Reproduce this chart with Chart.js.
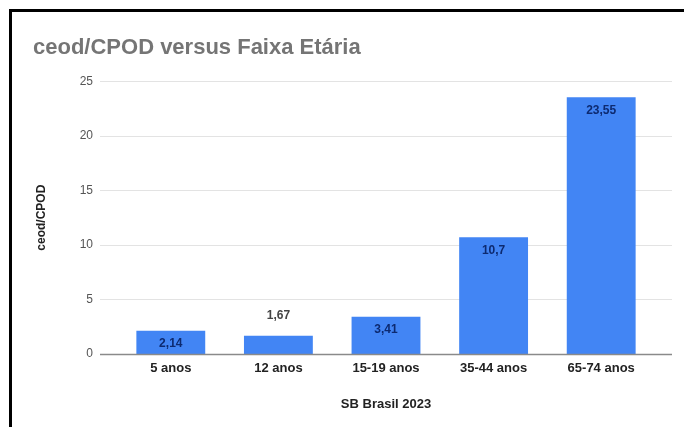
<!DOCTYPE html>
<html>
<head>
<meta charset="utf-8">
<script src="https://cdn.jsdelivr.net/npm/chart.js@4.4.1/dist/chart.umd.min.js"></script>
<style>
  html, body { margin: 0; padding: 0; background: #fff; }
  #wrap { position: relative; width: 684px; height: 427px; overflow: hidden; }
  #frame { position: absolute; left: 9px; top: 9px; right: 0; bottom: 0;
           border-top: 3px solid #000; border-left: 3px solid #000; pointer-events: none; }
  canvas { position: absolute; left: 0; top: 0; }
</style>
</head>
<body>
<div id="wrap">
  <canvas id="chart" width="684" height="427"></canvas>
  <div id="frame"></div>
</div>
<script>
// Data
const categories = ['5 anos', '12 anos', '15-19 anos', '35-44 anos', '65-74 anos'];
const values = [2.14, 1.67, 3.41, 10.7, 23.55];
const valueLabels = ['2,14', '1,67', '3,41', '10,7', '23,55'];
const yTicks = [0, 5, 10, 15, 20, 25];

// horizontal grid lines, a bit wider than the bars area (like Google Charts)
const gridPlugin = {
  id: 'wideGrid',
  beforeDatasetsDraw(chart) {
    const { ctx, scales: { y } } = chart;
    ctx.save();
    ctx.strokeStyle = '#e3e3e3';
    ctx.lineWidth = 1;
    yTicks.forEach(v => {
      if (v === 0) return;
      const py = Math.round(y.getPixelForValue(v)) + 0.5;
      ctx.beginPath();
      ctx.moveTo(100, py);
      ctx.lineTo(672, py);
      ctx.stroke();
    });
    ctx.restore();
  },
  afterDatasetsDraw(chart) {
    const { ctx, scales: { y } } = chart;
    const py = Math.round(y.getPixelForValue(0)) + 0.5;
    ctx.save();
    ctx.strokeStyle = '#8a8a8a';
    ctx.lineWidth = 1.5;
    ctx.beginPath();
    ctx.moveTo(100, py);
    ctx.lineTo(672, py);
    ctx.stroke();

    // value labels: inside the bar top, or above when the bar is too short
    const meta = chart.getDatasetMeta(0);
    ctx.font = 'bold 12px "Liberation Sans", Arial, sans-serif';
    ctx.textAlign = 'center';
    ctx.textBaseline = 'middle';
    meta.data.forEach((bar, i) => {
      const h = bar.base - bar.y;
      if (h < 20) {
        ctx.fillStyle = '#444';
        ctx.fillText(valueLabels[i], bar.x, bar.y - 20);
      } else {
        ctx.fillStyle = '#0d2a70';
        ctx.fillText(valueLabels[i], bar.x, bar.y + 13);
      }
    });
    ctx.restore();
  }
};

new Chart(document.getElementById('chart'), {
  type: 'bar',
  data: {
    labels: categories,
    datasets: [{
      label: 'ceod/CPOD',
      data: values,
      backgroundColor: '#4285f4',
      barPercentage: 0.64,
      categoryPercentage: 1
    }]
  },
  options: {
    responsive: false,
    animation: false,
    layout: { padding: { left: 33, right: 29, top: 0, bottom: 0 } },
    plugins: {
      legend: { display: false },
      tooltip: { enabled: false },
      title: {
        display: true,
        text: 'ceod/CPOD versus Faixa Etária',
        align: 'start',
        color: '#757575',
        font: { family: '"Liberation Sans", Arial, sans-serif', size: 22, weight: 'bold' },
        padding: { top: 35, bottom: 20 }
      }
    },
    scales: {
      x: {
        grid: { display: false, drawTicks: false },
        border: { display: false },
        ticks: {
          color: '#222',
          padding: 7,
          font: { family: '"Liberation Sans", Arial, sans-serif', size: 13, weight: 'bold' }
        },
        title: {
          display: true,
          text: 'SB Brasil 2023',
          color: '#222',
          font: { family: '"Liberation Sans", Arial, sans-serif', size: 13, weight: 'bold' },
          padding: { top: 0, bottom: 15 }
        },
        afterFit(scale) { scale.height = 73; }
      },
      y: {
        min: 0,
        max: 25,
        afterBuildTicks(scale) { scale.ticks = yTicks.map(v => ({ value: v })); },
        grid: { display: false },
        border: { display: false },
        ticks: {
          color: '#555',
          padding: 16,
          font: { family: '"Liberation Sans", Arial, sans-serif', size: 12 }
        },
        title: {
          display: true,
          text: 'ceod/CPOD',
          color: '#222',
          font: { family: '"Liberation Sans", Arial, sans-serif', size: 12, weight: 'bold' },
          padding: { top: 1, bottom: 0 }
        },
        afterFit(scale) { scale.width = 84; }
      }
    }
  },
  plugins: [gridPlugin]
});
</script>
</body>
</html>
